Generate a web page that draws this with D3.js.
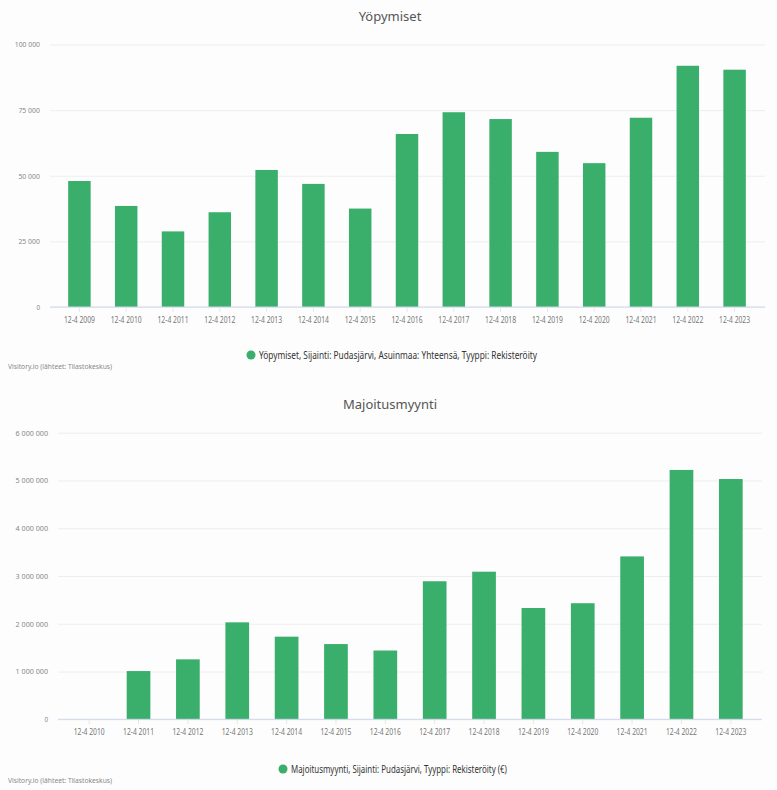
<!DOCTYPE html>
<html><head><meta charset="utf-8">
<script src="https://cdn.jsdelivr.net/npm/d3@7"></script>
<style>
html,body{margin:0;padding:0;background:#fdfdfd;}
svg{display:block;font-family:"Noto Sans",Lato,sans-serif;}
</style></head><body>
<svg id="c" width="777" height="790"></svg>
<script>
const years1 = ["12-4 2009","12-4 2010","12-4 2011","12-4 2012","12-4 2013","12-4 2014","12-4 2015","12-4 2016","12-4 2017","12-4 2018","12-4 2019","12-4 2020","12-4 2021","12-4 2022","12-4 2023"];
const yopymiset = [48000,38500,28800,36100,52200,46900,37500,65900,74200,71600,59100,54800,72100,91900,90400];
const ticks1 = [0,25000,50000,75000,100000];

const years2 = ["12-4 2010","12-4 2011","12-4 2012","12-4 2013","12-4 2014","12-4 2015","12-4 2016","12-4 2017","12-4 2018","12-4 2019","12-4 2020","12-4 2021","12-4 2022","12-4 2023"];
const majoitusmyynti = [0,1010000,1255000,2030000,1730000,1575000,1440000,2890000,3090000,2330000,2430000,3410000,5220000,5030000];
const ticks2 = [0,1000000,2000000,3000000,4000000,5000000,6000000];

const titles = ["Yöpymiset","Majoitusmyynti"];
const legends = ["Yöpymiset, Sijainti: Pudasjärvi, Asuinmaa: Yhteensä, Tyyppi: Rekisteröity",
                 "Majoitusmyynti, Sijainti: Pudasjärvi, Tyyppi: Rekisteröity (€)"];
const source = "Visitory.io (lähteet: Tilastokeskus)";

const green = "#3aae6b";
const svg = d3.select("#c");
const fmt = v => d3.format(",")(v).replace(/,/g," ");

function chart(cfg){
  const g = svg.append("g");
  const x = d3.scaleBand().domain(cfg.cats).range(cfg.xr).paddingInner(0.52).paddingOuter(0.26);
  const y = d3.scaleLinear().domain([0, cfg.ticks[cfg.ticks.length-1]]).range(cfg.yr);
  g.append("text").attr("x",390).attr("y",cfg.titleY).attr("text-anchor","middle")
    .attr("font-size",13).attr("fill","#555").text(cfg.title);
  // grid
  const ga = g.append("g").attr("transform",`translate(${cfg.gx0},0)`)
    .call(d3.axisLeft(y).tickValues(cfg.ticks).tickSize(-(cfg.gx1-cfg.gx0)).tickPadding(cfg.lblPad).tickFormat(fmt));
  ga.select(".domain").remove();
  ga.selectAll(".tick line").attr("stroke","#eeeeee").attr("stroke-width",1);
  ga.selectAll(".tick text").attr("fill","#888").attr("font-size",7.5).attr("font-family","Noto Sans, sans-serif")
    .attr("textLength",function(){return this.textContent.length*3.6;}).attr("lengthAdjust","spacingAndGlyphs");
  // bars
  g.append("g").selectAll("rect").data(cfg.vals).join("rect")
    .attr("x",(d,i)=>x(cfg.cats[i])).attr("width",x.bandwidth())
    .attr("y",d=>y(d)).attr("height",d=>y(0)-y(d)).attr("fill",green);
  // x axis
  const xa = g.append("g").attr("transform",`translate(0,${y(0)})`)
    .call(d3.axisBottom(x).tickSize(5).tickPadding(5));
  xa.select(".domain").attr("d",`M${cfg.gx0},0H${cfg.gx1}`).attr("stroke","#ccd6eb");
  xa.selectAll(".tick line").attr("stroke","#e6e6ee");
  xa.selectAll(".tick text").attr("fill","#777").attr("font-size",8.5).attr("font-family","Noto Sans, sans-serif")
    .attr("textLength",31).attr("lengthAdjust","spacingAndGlyphs");
  // legend
  g.append("circle").attr("cx",cfg.legX).attr("cy",cfg.legY).attr("r",4.5).attr("fill",green);
  g.append("text").attr("x",cfg.legX+8).attr("y",cfg.legY+3.5).attr("font-size",10).attr("fill","#333")
    .attr("textLength",cfg.legW).attr("lengthAdjust","spacingAndGlyphs").text(cfg.legend);
  g.append("text").attr("x",8).attr("y",cfg.srcY).attr("font-size",7.5).attr("fill","#888")
    .attr("textLength",104).attr("lengthAdjust","spacingAndGlyphs").text(source);
}

chart({cats:years1, vals:yopymiset, ticks:ticks1, title:titles[0], titleY:21,
  xr:[56,758], yr:[307,44.5], gx0:50, gx1:765, lblPad:10,
  legX:251, legY:355, legW:278, legend:legends[0], srcY:369});
chart({cats:years2, vals:majoitusmyynti, ticks:ticks2, title:titles[1], titleY:409,
  xr:[64.5,755.5], yr:[719.3,432.7], gx0:58, gx1:762, lblPad:10,
  legX:283, legY:769, legW:216, legend:legends[1], srcY:783});
</script></body></html>
